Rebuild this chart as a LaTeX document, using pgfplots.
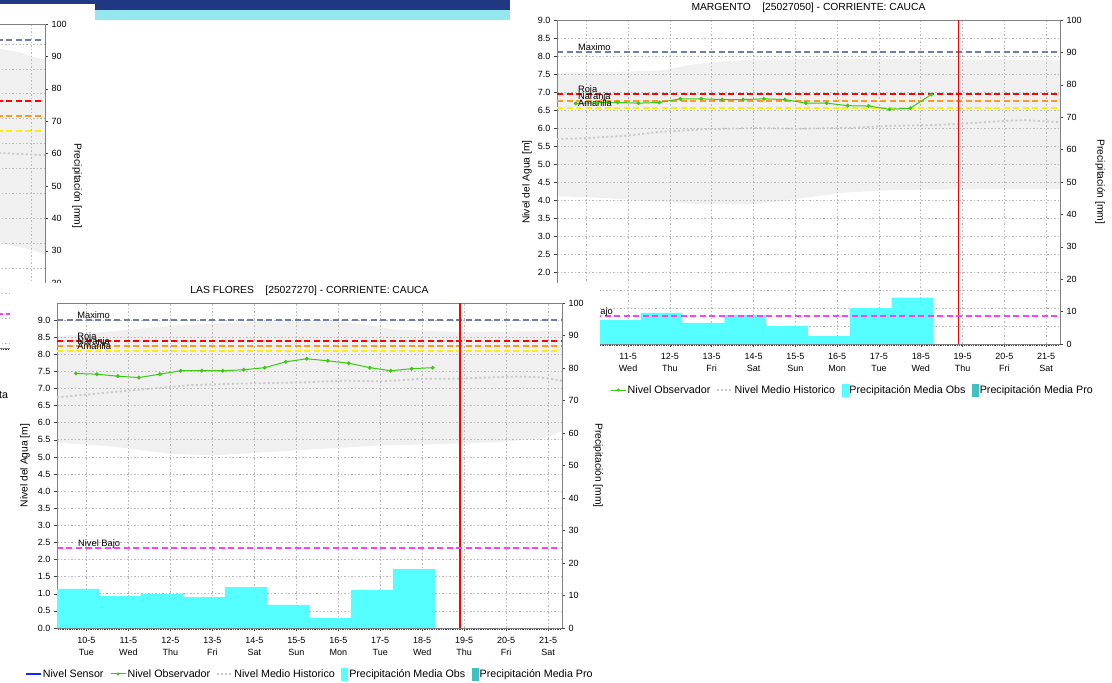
\documentclass[border=0pt]{standalone}
\usepackage{fontspec}
\setmainfont{Liberation Sans}
\usepackage{pgfplots}
\pgfplotsset{compat=1.18}

\definecolor{maxcol}{RGB}{110,125,170}
\definecolor{rojacol}{RGB}{255,0,0}
\definecolor{narcol}{RGB}{255,153,34}
\definecolor{amacol}{RGB}{250,240,0}
\definecolor{bajocol}{RGB}{255,60,255}
\definecolor{obscol}{RGB}{60,200,20}
\definecolor{sensorcol}{RGB}{20,40,255}
\definecolor{cyanbar}{RGB}{85,255,255}
\definecolor{tealbar}{RGB}{64,192,192}
\definecolor{bandgray}{RGB}{240,240,240}
\definecolor{gridgray}{RGB}{185,185,185}
\definecolor{mediocol}{RGB}{200,200,200}
\definecolor{axgray}{RGB}{128,128,128}
\definecolor{bannerblue}{RGB}{32,56,130}
\definecolor{bannercyan}{RGB}{150,230,240}

\newcommand{\ticksize}{\fontsize{9}{12}\selectfont}
\newcommand{\labsize}{\fontsize{10.3}{12}\selectfont}
\newcommand{\legsize}{\fontsize{10.7}{12}\selectfont}
\newcommand{\lvlsize}{\fontsize{9.3}{11}\selectfont}

\pgfplotsset{
  basechart/.style={scale only axis, xmin=9.3, xmax=21.33},
  levelaxis/.style={
    basechart,
    axis line style={axgray, line width=0.8pt},
    xtick={10,...,21},
    xticklabels={{10-5\\Tue},{11-5\\Wed},{12-5\\Thu},{13-5\\Fri},{14-5\\Sat},{15-5\\Sun},{16-5\\Mon},{17-5\\Tue},{18-5\\Wed},{19-5\\Thu},{20-5\\Fri},{21-5\\Sat}},
    xticklabel style={align=center, font=\ticksize, yshift=-2.5pt},
    minor xtick={9.3333333,9.375,...,21.3},
    xtick pos=bottom, ytick pos=left,
    tick align=outside,
    major tick length=3pt, minor tick length=2pt,
    every tick/.style={black!75, line width=0.5pt},
    grid=major,
    major grid style={gridgray, line width=0.7pt, dash pattern=on 1.5pt off 2pt},
    yticklabel style={font=\ticksize, /pgf/number format/.cd, fixed, fixed zerofill, precision=1, assume math mode=true},
    every axis title/.style={font=\labsize, at={(axis description cs:0.5,1)}, anchor=center, yshift=12pt},
  },
  precipaxis/.style={
    basechart,
    axis y line*=right, axis x line*=bottom,
    x axis line style={draw=none}, xtick=\empty,
    ymin=0, ymax=100, ytick={0,10,...,100},
    y axis line style={axgray, line width=0.8pt},
    tick align=outside, major tick length=3pt,
    every tick/.style={black!75, line width=0.5pt},
    yticklabel style={font=\ticksize, /pgf/number format/assume math mode=true},
  },
  lvl/.style={line width=2pt, dash pattern=on 6pt off 3.5pt},
  medio/.style={mediocol, line width=1.8pt, dash pattern=on 2pt off 2.5pt},
  obs/.style={obscol, line width=1pt, mark=*, mark size=1.4pt, mark options={solid, fill=obscol}},
  legendstyle/.style={
    legend style={draw=none, fill=none, anchor=west, legend columns=-1, font=\legsize,
      inner sep=0pt, nodes={inner sep=1.5pt},
      /tikz/every even column/.append style={column sep=5pt}},
  },
}

\begin{document}
\begin{tikzpicture}[x=1pt,y=1pt]
\path[use as bounding box] (0pt,0pt) rectangle (1112pt,683pt);
\clip (0pt,0pt) rectangle (1112pt,683pt);

% banner
\fill[bannerblue] (0pt,679pt) rectangle (510pt,683pt);
\fill[bannerblue] (95pt,673pt) rectangle (510pt,683pt);
\fill[bannercyan] (95pt,663pt) rectangle (510pt,673pt);

%================ Chart 0 (fragment, top left) ================
\begin{axis}[basechart, hide axis, at={(45pt,335pt)}, anchor=south east, width=505pt, height=324pt, ymin=0.4, ymax=6.9]
\addplot[fill=bandgray, draw=none] coordinates {(19.8,6.48)(20.26,6.40)(20.7,6.34)(21.04,6.24)(21.33,6.19)(21.33,2.27)(21.04,2.37)(20.26,2.50)(19.8,2.55)} -- cycle;
\end{axis}
\begin{axis}[levelaxis, at={(45pt,335pt)}, anchor=south east, width=505pt, height=324pt, ymin=0.4, ymax=6.9, ytick={0.5,1,...,6.5}]
\addplot[lvl, maxcol] coordinates {(19.5,6.58)(21.23,6.58)};
\addplot[lvl, rojacol] coordinates {(19.5,5.35)(21.23,5.35)};
\addplot[lvl, narcol] coordinates {(19.5,5.05)(21.23,5.05)};
\addplot[lvl, amacol] coordinates {(19.5,4.75)(21.23,4.75)};
\addplot[lvl, bajocol] coordinates {(19.5,1.08)(21.23,1.08)};
\addplot[medio] coordinates {(19.8,4.32)(20.26,4.31)(21.33,4.27)};
\end{axis}
\begin{axis}[precipaxis, at={(45pt,335pt)}, anchor=south east, width=505pt, height=324pt,
  every axis y label/.style={at={(axis description cs:1.0634,0.5)}, anchor=center, rotate=-90, font=\labsize},
  ylabel={Precipitación [mm]}]
\end{axis}

%================ MARGENTO (top right) ================
\begin{axis}[basechart, hide axis, at={(557pt,339pt)}, anchor=south west, width=503pt, height=324pt, ymin=0, ymax=9]
\addplot[fill=bandgray, draw=none] coordinates {
(9.3,7.54)(10.5,7.55)(11.82,7.60)(12.46,7.75)(13.28,7.85)(14.01,7.90)(16.0,7.92)(18.21,7.91)(19.5,7.90)(21.33,7.88)
(21.33,4.30)(19.5,4.30)(17.4,4.28)(16.11,4.20)(15.11,4.04)(14.01,3.88)(12.74,3.88)(11.8,3.95)(10.5,4.05)(9.3,4.11)} -- cycle;
\end{axis}
\begin{axis}[levelaxis, at={(557pt,339pt)}, anchor=south west, width=503pt, height=324pt, ymin=0, ymax=9, ytick={0,0.5,...,9},
  title={MARGENTO\ \ \ \ [25027050] - CORRIENTE: CAUCA},
  every axis y label/.style={at={(axis description cs:-0.0596,0.5)}, anchor=center, rotate=90, font=\labsize},
  ylabel={Nivel del Agua [m]}]
\addplot[lvl, maxcol] coordinates {(9.3,8.10)(21.33,8.10)};
\addplot[lvl, rojacol] coordinates {(9.3,6.95)(21.33,6.95)};
\addplot[lvl, narcol] coordinates {(9.3,6.76)(21.33,6.76)};
\addplot[lvl, amacol] coordinates {(9.3,6.56)(21.33,6.56)};
\addplot[medio] coordinates {(9.3,5.69)(10.0,5.72)(10.91,5.78)(11.82,5.90)(12.74,5.96)(14.01,6.00)(15.11,5.98)(16.39,6.01)(17.30,6.06)(18.21,6.08)(18.85,6.11)(20.04,6.20)(20.49,6.22)(21.33,6.16)};
\addplot[obs] coordinates {(9.75,6.68)(10.25,6.70)(10.75,6.71)(11.25,6.69)(11.75,6.71)(12.25,6.81)(12.75,6.81)(13.25,6.79)(13.75,6.79)(14.25,6.81)(14.75,6.79)(15.25,6.69)(15.75,6.69)(16.25,6.62)(16.75,6.61)(17.25,6.52)(17.75,6.55)(18.25,6.93)};
\addplot[rojacol, line width=1pt] coordinates {(18.9,0)(18.9,9)};
\node[anchor=base west, inner sep=0pt, font=\lvlsize, yshift=1.5pt] at (axis cs:9.8,8.10) {Maximo};
\node[anchor=base west, inner sep=0pt, font=\lvlsize, yshift=1.5pt] at (axis cs:9.8,6.95) {Roja};
\node[anchor=base west, inner sep=0pt, font=\lvlsize, yshift=1.5pt] at (axis cs:9.8,6.76) {Naranja};
\node[anchor=base west, inner sep=0pt, font=\lvlsize, yshift=1.5pt] at (axis cs:9.8,6.56) {Amarilla};
\end{axis}
\begin{axis}[precipaxis, at={(557pt,339pt)}, anchor=south west, width=503pt, height=324pt,
  every axis y label/.style={at={(axis description cs:1.0795,0.5)}, anchor=center, rotate=-90, font=\labsize},
  ylabel={Precipitación [mm]}]
\addplot[const plot, fill=cyanbar, draw=none] coordinates {(10.3,7.4)(11.3,9.6)(12.3,6.5)(13.3,8.9)(14.3,5.5)(15.3,2.4)(16.3,11.1)(17.3,14.3)(18.3,14.3)} \closedcycle;
\end{axis}
\begin{axis}[basechart, hide axis, at={(557pt,339pt)}, anchor=south west, width=503pt, height=324pt, ymin=0, ymax=9,
  legendstyle, legend style={at={(axis description cs:0.1054,-0.142)}}]
\addplot[lvl, bajocol, forget plot] coordinates {(9.3,0.78)(21.33,0.78)};
\node[anchor=base west, inner sep=0pt, font=\lvlsize, yshift=1.5pt] at (axis cs:9.63,0.78) {Nivel Bajo};
\addlegendimage{legend image code/.code={\draw[obscol, line width=1pt] (0pt,0pt) -- (15pt,0pt); \fill[obscol] (7.5pt,0pt) circle (1.4pt);}}
\addlegendentry{Nivel Observador}
\addlegendimage{legend image code/.code={\draw[mediocol, line width=1.2pt, dash pattern=on 2pt off 2pt] (0pt,0pt) -- (15pt,0pt);}}
\addlegendentry{Nivel Medio Historico}
\addlegendimage{legend image code/.code={\fill[cyanbar] (0pt,-6pt) rectangle (6pt,6pt);}}
\addlegendentry{Precipitación Media Obs}
\addlegendimage{legend image code/.code={\fill[tealbar] (0pt,-6pt) rectangle (6pt,6pt);}}
\addlegendentry{Precipitación Media Pro}
\end{axis}

%================ LAS FLORES window ================
\fill[white] (10pt,0pt) rectangle (600pt,400pt);
\node[anchor=west, inner sep=0pt, font=\legsize] at (-1pt,288pt) {ta};

\begin{axis}[basechart, hide axis, at={(57pt,55pt)}, anchor=south west, width=505pt, height=325pt, ymin=0, ymax=9.5]
\addplot[fill=bandgray, draw=none] coordinates {
(9.3,8.53)(10.66,8.68)(12.03,8.83)(13.03,8.90)(14.30,8.96)(15.94,8.96)(16.66,8.87)(17.30,8.73)(18.85,8.65)(21.33,8.68)
(21.33,5.75)(20.9,5.55)(19.76,5.43)(17.94,5.36)(17.03,5.34)(15.66,5.24)(14.30,5.14)(13.03,5.05)(12.03,5.09)(10.66,5.30)(9.3,5.42)} -- cycle;
\end{axis}
\begin{axis}[levelaxis, at={(57pt,55pt)}, anchor=south west, width=505pt, height=325pt, ymin=0, ymax=9.5, ytick={0,0.5,...,9},
  title={LAS FLORES\ \ \ \ [25027270] - CORRIENTE: CAUCA},
  every axis y label/.style={at={(axis description cs:-0.0634,0.5)}, anchor=center, rotate=90, font=\labsize},
  ylabel={Nivel del Agua [m]}]
\addplot[lvl, maxcol] coordinates {(9.3,9.0)(21.33,9.0)};
\addplot[lvl, rojacol] coordinates {(9.3,8.39)(21.33,8.39)};
\addplot[lvl, narcol] coordinates {(9.3,8.24)(21.33,8.24)};
\addplot[lvl, amacol] coordinates {(9.3,8.10)(21.33,8.10)};
\addplot[medio] coordinates {(9.3,6.74)(10.66,6.90)(11.57,7.00)(12.48,7.10)(13.85,7.15)(15.21,7.18)(16.12,7.23)(17.03,7.21)(17.94,7.28)(18.85,7.29)(20.21,7.35)(20.8,7.33)(21.33,7.23)};
\addplot[obs] coordinates {(9.75,7.44)(10.25,7.42)(10.75,7.36)(11.25,7.32)(11.75,7.42)(12.25,7.52)(12.75,7.52)(13.25,7.52)(13.75,7.55)(14.25,7.61)(14.75,7.78)(15.25,7.87)(15.75,7.81)(16.25,7.74)(16.75,7.61)(17.25,7.52)(17.75,7.58)(18.25,7.61)};
\addplot[rojacol, line width=1.3pt] coordinates {(18.9,0)(18.9,9.5)};
\node[anchor=base west, inner sep=0pt, font=\lvlsize, yshift=1.5pt] at (axis cs:9.78,9.0) {Maximo};
\node[anchor=base west, inner sep=0pt, font=\lvlsize, yshift=1.5pt] at (axis cs:9.78,8.39) {Roja};
\node[anchor=base west, inner sep=0pt, font=\lvlsize, yshift=1.5pt] at (axis cs:9.78,8.24) {Naranja};
\node[anchor=base west, inner sep=0pt, font=\lvlsize, yshift=1.5pt] at (axis cs:9.78,8.10) {Amarilla};
\end{axis}
\begin{axis}[precipaxis, at={(57pt,55pt)}, anchor=south west, width=505pt, height=325pt,
  every axis y label/.style={at={(axis description cs:1.0713,0.5)}, anchor=center, rotate=-90, font=\labsize},
  ylabel={Precipitación [mm]}]
\addplot[const plot, fill=cyanbar, draw=none] coordinates {(9.3,12.0)(10.3,9.85)(11.3,10.4)(12.3,9.5)(13.3,12.6)(14.3,7.1)(15.3,3.1)(16.3,11.7)(17.3,18.1)(18.3,18.1)} \closedcycle;
\end{axis}
\begin{axis}[basechart, hide axis, at={(57pt,55pt)}, anchor=south west, width=505pt, height=325pt, ymin=0, ymax=9.5,
  legendstyle, legend style={at={(axis description cs:-0.0634,-0.1415)}}]
\addplot[lvl, bajocol, forget plot] coordinates {(9.3,2.33)(21.33,2.33)};
\node[anchor=base west, inner sep=0pt, font=\lvlsize, yshift=1.5pt] at (axis cs:9.8,2.33) {Nivel Bajo};
\addlegendimage{legend image code/.code={\draw[color=sensorcol, line width=1.2pt] (0pt,0pt) -- (15pt,0pt);}}
\addlegendentry{Nivel Sensor}
\addlegendimage{legend image code/.code={\draw[obscol, line width=1pt] (0pt,0pt) -- (15pt,0pt); \fill[obscol] (7.5pt,0pt) circle (1.4pt);}}
\addlegendentry{Nivel Observador}
\addlegendimage{legend image code/.code={\draw[mediocol, line width=1.2pt, dash pattern=on 2pt off 2pt] (0pt,0pt) -- (15pt,0pt);}}
\addlegendentry{Nivel Medio Historico}
\addlegendimage{legend image code/.code={\fill[cyanbar] (0pt,-6pt) rectangle (6pt,6pt);}}
\addlegendentry{Precipitación Media Obs}
\addlegendimage{legend image code/.code={\fill[tealbar] (0pt,-6pt) rectangle (6pt,6pt);}}
\addlegendentry{Precipitación Media Pro}
\end{axis}
\end{tikzpicture}
\end{document}
